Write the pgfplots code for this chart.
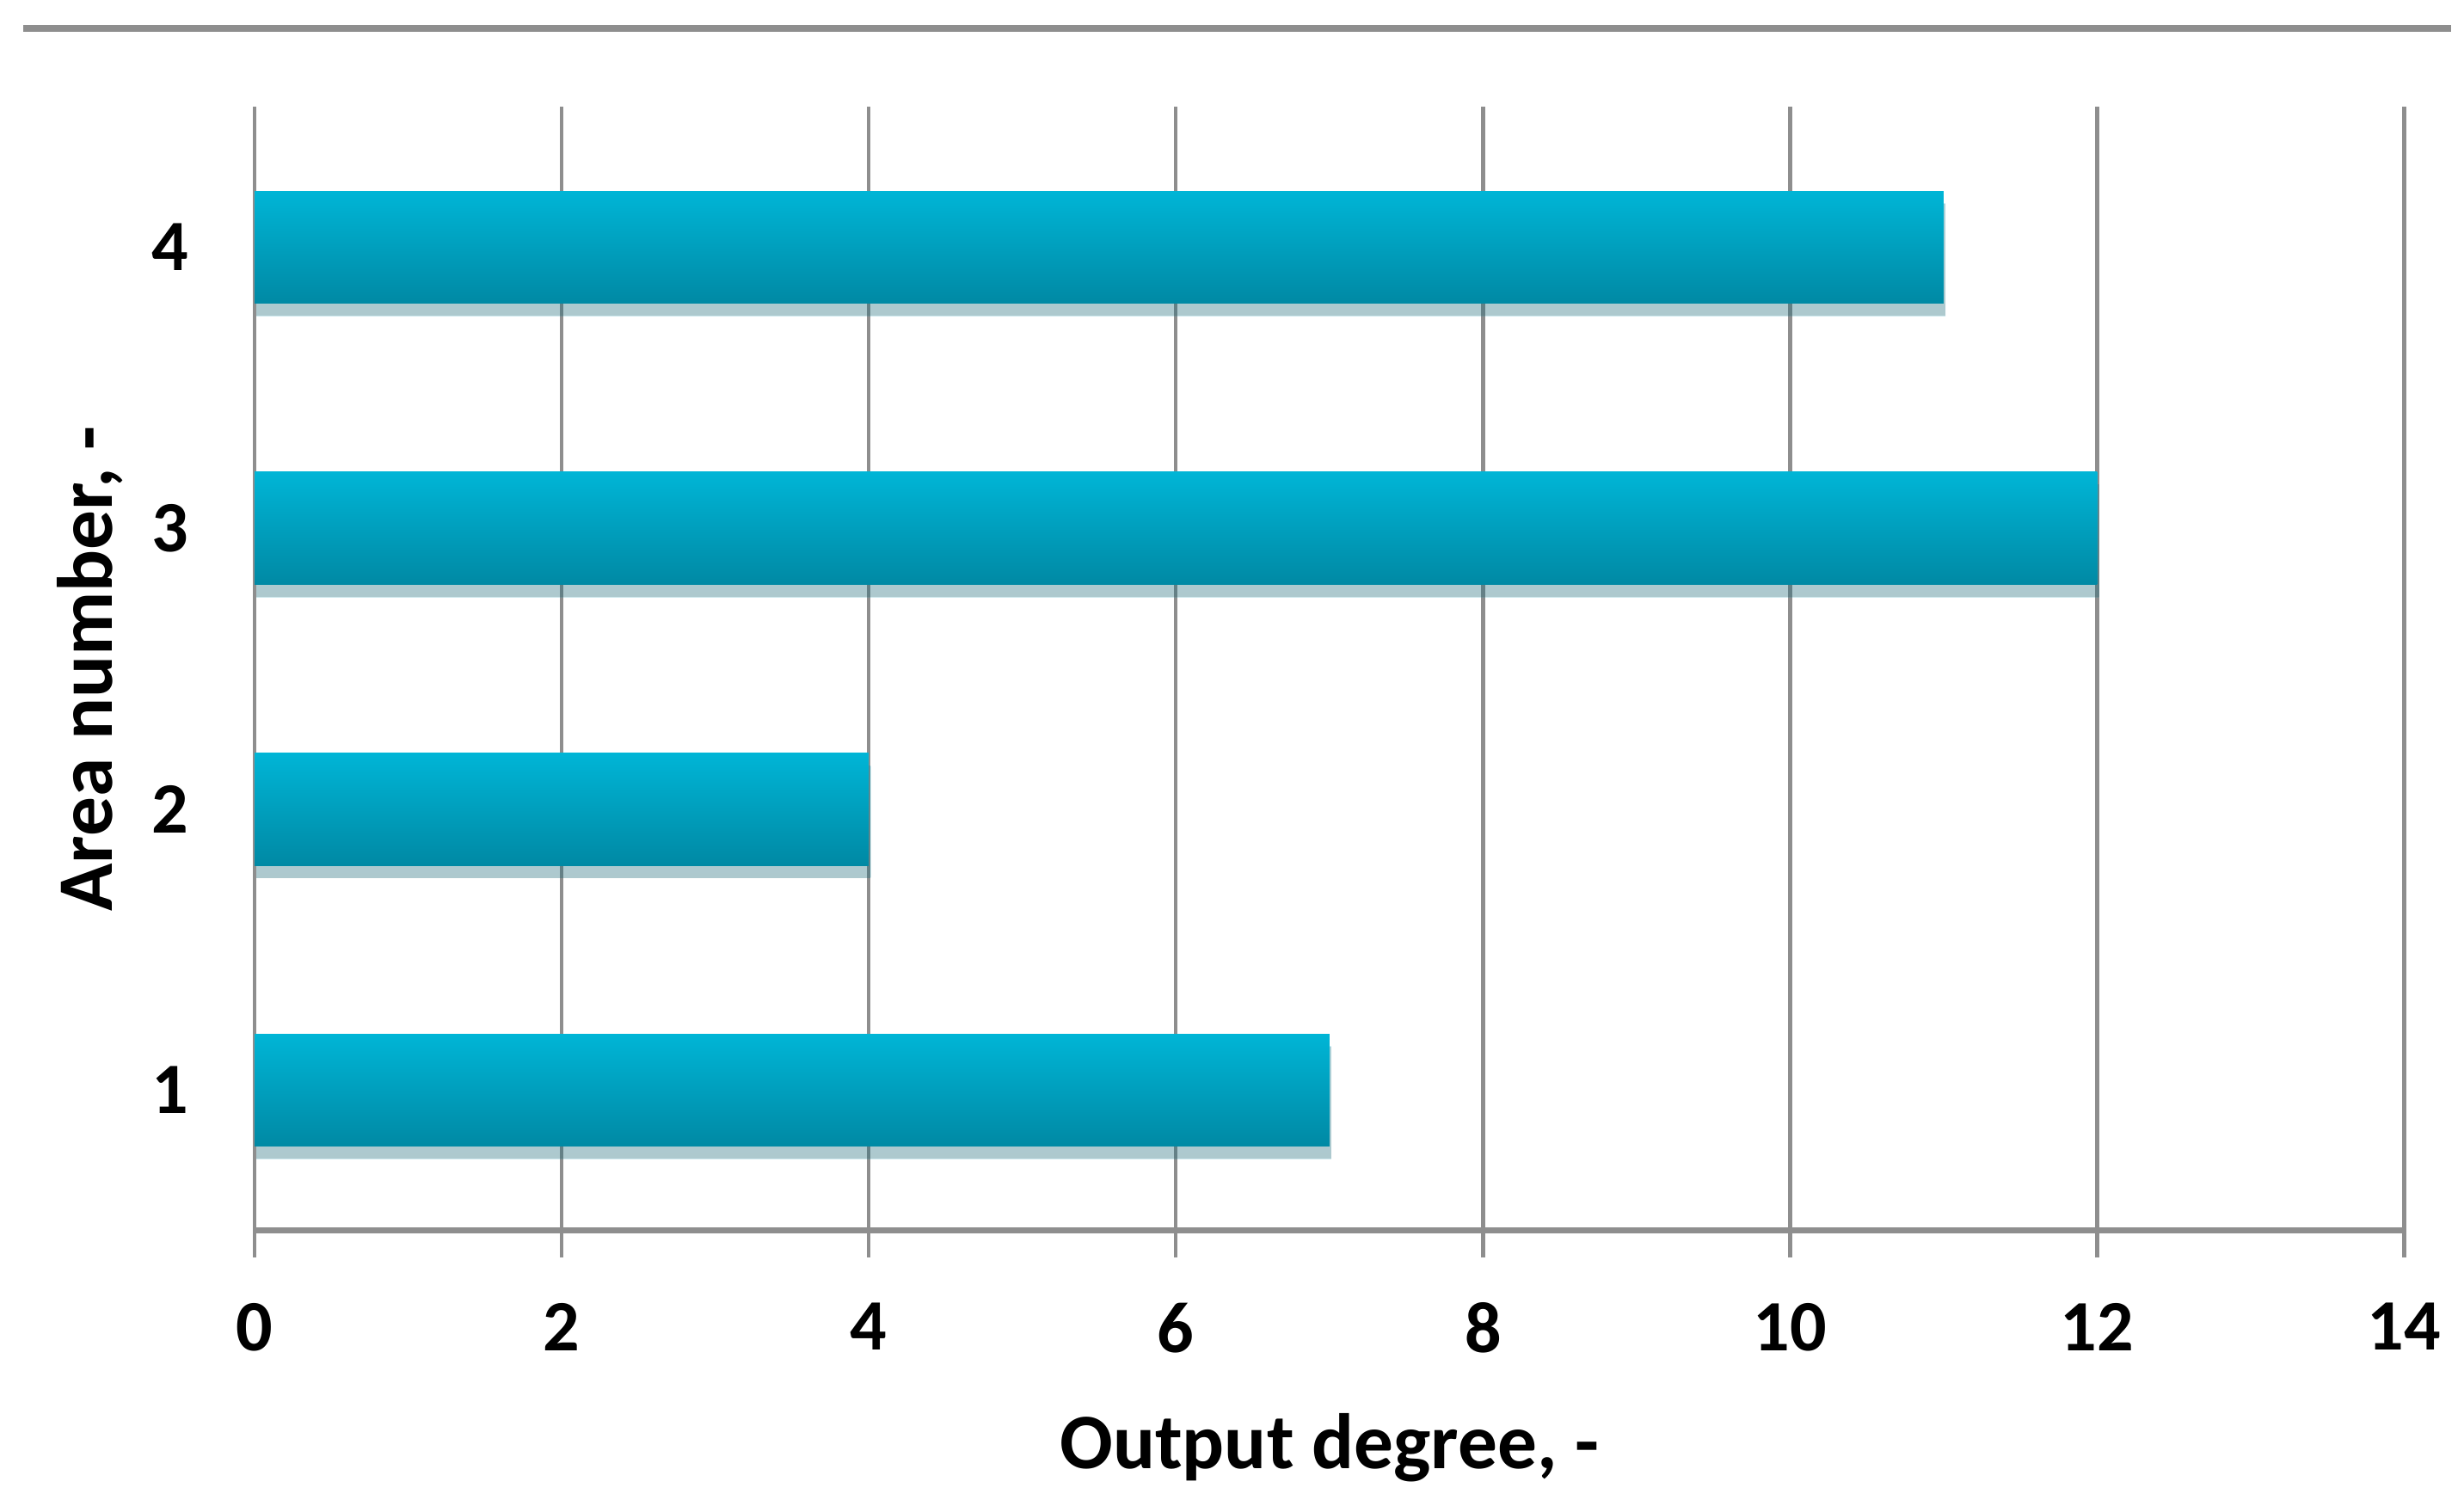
\documentclass[border=0pt]{standalone}
\usepackage{pgfplots}
\pgfplotsset{compat=1.18}
\usepackage{fontspec}
\setmainfont{Carlito}
\usetikzlibrary{shadows}
\definecolor{bartop}{HTML}{00B5D6}
\definecolor{barbot}{HTML}{0089A4}
\definecolor{gridc}{HTML}{8E8E8E}
\begin{document}
\begin{tikzpicture}
\useasboundingbox (-40.5pt,-42.75pt) rectangle (351.5pt,195.75pt);
\draw[gridc, line width=1.1pt] (-36.75pt,191.25pt) -- (349.5pt,191.25pt);
\begin{axis}[
  at={(0pt,0pt)}, anchor=south west,
  scale only axis,
  width=342pt, height=178.75pt,
  xmin=0, xmax=14, ymin=0.5, ymax=4.5,
  xtick={0,2,...,14},
  ytick={1,2,3,4},
  xbar, bar width=0.4, bar shift=0pt,
  axis x line*=bottom,
  axis y line*=left,
  y axis line style={draw=none},
  xmajorgrids, grid style={gridc, line width=0.6pt},
  x axis line style={gridc, line width=1pt, -},
  xtick style={gridc, line width=0.6pt},
  major tick length=4.25pt,
  tick align=outside,
  ytick style={draw=none},
  tick label style={font=\fontsize{11.5}{13}\selectfont\bfseries},
  /pgf/number format/assume math mode=true,
  xticklabel style={yshift=-3.75pt},
  yticklabel style={xshift=-2.75pt},
  xlabel={Output degree, -},
  ylabel={Area number, -},
  label style={font=\fontsize{12.5}{14}\selectfont\bfseries},
  xlabel style={yshift=-2.75pt},
  ylabel style={yshift=-2.25pt},
  clip=false,
  every axis plot/.append style={draw=none, top color=bartop, bottom color=barbot,
    drop shadow={shadow xshift=0.3pt, shadow yshift=-2pt, opacity=0.2, fill=black!75}},
]
\addplot coordinates {(7,1)};
\addplot coordinates {(4,2)};
\addplot coordinates {(12,3)};
\addplot coordinates {(11,4)};
\end{axis}
\end{tikzpicture}
\end{document}
